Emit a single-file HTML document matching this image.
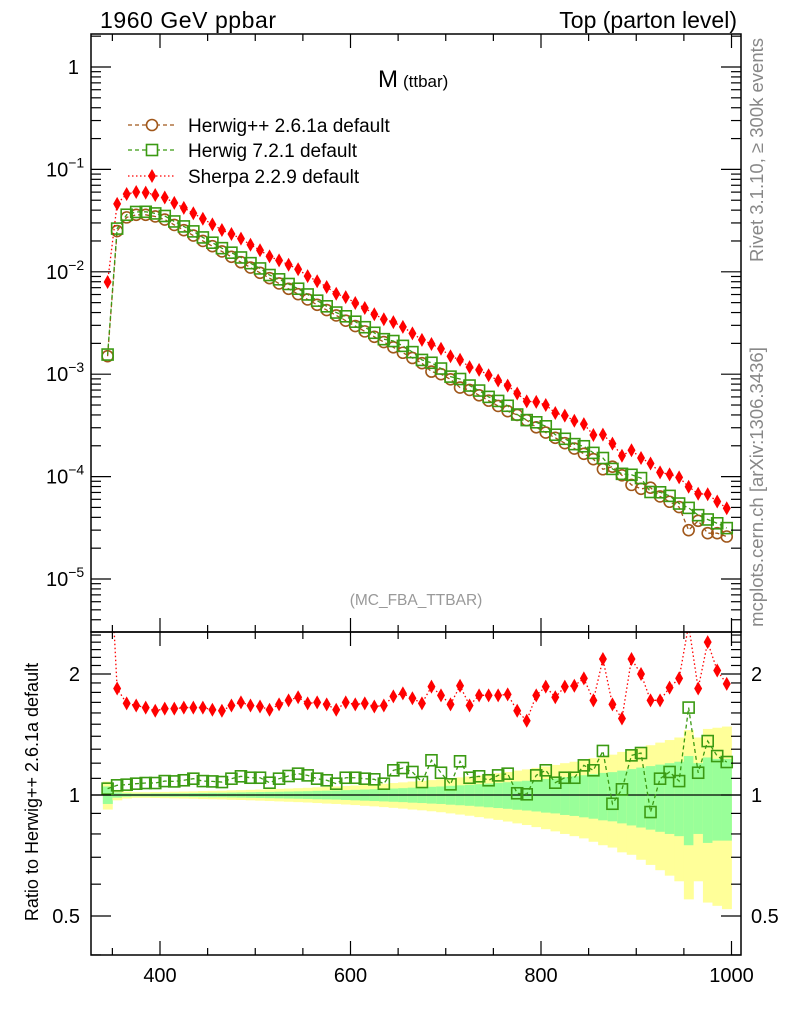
<!DOCTYPE html>
<html><head><meta charset="utf-8">
<style>
html,body{margin:0;padding:0;background:#fff;}
svg{display:block;font-family:"Liberation Sans",Arial,sans-serif;}
</style></head>
<body>
<svg id="chart" width="786" height="1024" viewBox="0 0 786 1024" xmlns="http://www.w3.org/2000/svg">
  <g id="bands"></g>
  <g id="series"></g>
  <g id="axes"></g>
  <text x="100" y="28" font-size="23" textLength="176">1960 GeV ppbar</text>
  <text x="737" y="28" font-size="23" text-anchor="end">Top (parton level)</text>
  <text x="378" y="87" font-size="24">M<tspan font-size="17" dx="5">(ttbar)</tspan></text>
  <text x="416" y="605" font-size="15.5" fill="#999" text-anchor="middle">(MC_FBA_TTBAR)</text>
  <text transform="translate(763,150) rotate(-90)" font-size="18.5" fill="#888" text-anchor="middle">Rivet 3.1.10, ≥ 300k events</text>
  <text transform="translate(763,487) rotate(-90)" font-size="18.5" fill="#888" text-anchor="middle">mcplots.cern.ch [arXiv:1306.3436]</text>
  <text transform="translate(38,792) rotate(-90)" font-size="18" text-anchor="middle">Ratio to Herwig++ 2.6.1a default</text>
  <g id="legend">
    <g>
      <line x1="128" y1="125" x2="176" y2="125" stroke="#a0571a" stroke-width="1.3" stroke-dasharray="4,3"/>
      <circle cx="152" cy="125" r="5.5" fill="#fff" stroke="#a0571a" stroke-width="1.6"/>
      <text x="188" y="132" font-size="19">Herwig++ 2.6.1a default</text>
    </g>
    <g>
      <line x1="128" y1="150" x2="176" y2="150" stroke="#3a9a12" stroke-width="1.3" stroke-dasharray="4,3"/>
      <rect x="146.5" y="144.5" width="11" height="11" fill="#fff" stroke="#3a9a12" stroke-width="1.6"/>
      <text x="188" y="157" font-size="19">Herwig 7.2.1 default</text>
    </g>
    <g>
      <line x1="128" y1="176" x2="176" y2="176" stroke="#ff0000" stroke-width="1.3" stroke-dasharray="1.5,2.5"/>
      <polygon points="152,169 156,176 152,183 148,176" fill="#ff0000"/>
      <text x="188" y="183" font-size="19">Sherpa 2.2.9 default</text>
    </g>
  </g>
</svg>
<script>
// ---- data ----
const binCenters = [345,355,365,375,385,395,405,415,425,435,445,455,465,475,485,495,505,515,525,535,545,555,565,575,585,595,605,615,625,635,645,655,665,675,685,695,705,715,725,735,745,755,765,775,785,795,805,815,825,835,845,855,865,875,885,895,905,915,925,935,945,955,965,975,985,995];
const herwigppValues = [0.0015,0.025,0.034,0.036,0.036,0.0347,0.0324,0.0287,0.0255,0.0226,0.0200,0.0178,0.0158,0.0140,0.0124,0.0110,0.00977,0.00867,0.00769,0.00682,0.00605,0.00537,0.00476,0.00423,0.00375,0.00333,0.00295,0.00262,0.00232,0.00206,0.00183,0.00162,0.00144,0.00128,0.00106,0.00100,0.000891,0.00074,0.000702,0.000622,0.000552,0.000490,0.000435,0.00040,0.000355,0.000303,0.000269,0.000239,0.000212,0.000188,0.000167,0.000148,0.000118,0.000125,0.000103,0.000083,0.000076,0.000078,0.000064,0.0000568,0.0000504,0.000030,0.000037,0.000028,0.000028,0.000026];
const herwig7Ratio = [1.037,1.057,1.061,1.067,1.071,1.071,1.083,1.081,1.088,1.098,1.083,1.081,1.077,1.098,1.113,1.104,1.104,1.073,1.098,1.115,1.130,1.119,1.098,1.088,1.067,1.104,1.104,1.098,1.094,1.067,1.152,1.167,1.141,1.077,1.220,1.136,1.063,1.213,1.104,1.113,1.088,1.119,1.130,1.010,1.004,1.119,1.152,1.073,1.104,1.104,1.185,1.152,1.287,0.951,1.033,1.255,1.272,0.907,1.098,1.141,1.083,1.65,1.136,1.362,1.25,1.208];
const sherpaRatio = [5.3,1.84,1.69,1.67,1.65,1.62,1.64,1.64,1.65,1.65,1.65,1.63,1.62,1.67,1.70,1.67,1.66,1.63,1.68,1.72,1.75,1.69,1.70,1.68,1.63,1.70,1.68,1.69,1.66,1.67,1.76,1.79,1.74,1.69,1.86,1.77,1.68,1.87,1.67,1.77,1.77,1.77,1.78,1.62,1.53,1.77,1.86,1.75,1.86,1.87,1.95,1.72,2.18,1.68,1.55,2.18,2.00,1.72,1.72,1.85,1.95,2.65,1.84,2.40,2.04,1.89];
const yellowHalfWidth = [0.08,0.03,0.02,0.016,0.016,0.017,0.018,0.019,0.02,0.021,0.023,0.024,0.025,0.027,0.028,0.03,0.032,0.034,0.036,0.038,0.04,0.042,0.045,0.048,0.05,0.053,0.056,0.06,0.063,0.067,0.071,0.075,0.08,0.084,0.089,0.094,0.10,0.106,0.112,0.119,0.126,0.133,0.141,0.15,0.158,0.168,0.178,0.188,0.2,0.21,0.22,0.235,0.25,0.26,0.28,0.29,0.31,0.33,0.35,0.37,0.39,0.45,0.39,0.46,0.47,0.48];
const greenHalfWidth = [0.05,0.015,0.01,0.008,0.008,0.009,0.009,0.01,0.01,0.011,0.012,0.013,0.013,0.014,0.015,0.016,0.017,0.018,0.019,0.02,0.021,0.022,0.024,0.025,0.026,0.028,0.03,0.032,0.034,0.036,0.038,0.04,0.043,0.045,0.048,0.05,0.054,0.057,0.06,0.064,0.068,0.072,0.076,0.081,0.085,0.09,0.096,0.10,0.108,0.113,0.12,0.127,0.135,0.14,0.15,0.16,0.17,0.18,0.19,0.2,0.21,0.25,0.2,0.24,0.23,0.23];
const binWidth = 10;
const xTickLabels = [400,600,800,1000];
const mainTickExps = [0,-1,-2,-3,-4,-5];
const ratioTickLabels = [0.5,1,2];

// ---- axes ----
const L=91, R=741, MT=34, MB=632, RT=632, RB=955;
const xs = v => 160 + (v-400)*0.9525;
const ym = v => 67 - Math.log10(v)*102.4;
const yr = r => 795 - Math.log2(r)*121;
const NS="http://www.w3.org/2000/svg";
function mk(tag, attrs, parent){const e=document.createElementNS(NS,tag);for(const k in attrs)e.setAttribute(k,attrs[k]);parent.appendChild(e);return e;}
const bands=document.getElementById('bands'), series=document.getElementById('series'), axes=document.getElementById('axes');

binCenters.forEach((c,i)=>{
  const x0=Math.max(L,xs(c-binWidth/2)), x1=xs(c+binWidth/2);
  const yh=yellowHalfWidth[i], gh=greenHalfWidth[i];
  const yb=mk('rect',{x:x0,y:yr(1+yh),width:x1-x0+0.4,height:yr(1-yh)-yr(1+yh),fill:'#ffff99'},bands);
  
  
  const gb=mk('rect',{x:x0,y:yr(1+gh),width:x1-x0+0.4,height:yr(1-gh)-yr(1+gh),fill:'#99ff99'},bands);
  
  
});
mk('line',{x1:L,x2:R,y1:yr(1),y2:yr(1),stroke:'#000','stroke-width':1.2},bands);

const defs=mk('defs',{},document.getElementById('chart'));
const cp1=mk('clipPath',{id:'cmain'},defs); mk('rect',{x:L,y:MT,width:R-L,height:MB-MT},cp1);
const cp2=mk('clipPath',{id:'cratio'},defs); mk('rect',{x:L,y:RT,width:R-L,height:RB-RT},cp2);
const gm=mk('g',{'clip-path':'url(#cmain)'},series);
const gr=mk('g',{'clip-path':'url(#cratio)'},series);

function drawSeries(g, vals, yf, color, dash, marker, name){
  const pts=binCenters.map((c,i)=>xs(c)+','+yf(vals[i])).join(' ');
  const pl=mk('polyline',{points:pts,fill:'none',stroke:color,'stroke-width':1.3,'stroke-dasharray':dash},g);
  
  
  binCenters.forEach((c,i)=>{
    const x=xs(c), y=yf(vals[i]); let m;
    if(marker==='circle') m=mk('circle',{cx:x,cy:y,r:5.5,fill:'none',stroke:color,'stroke-width':1.6},g);
    else if(marker==='square') m=mk('rect',{x:x-5.5,y:y-5.5,width:11,height:11,fill:'none',stroke:color,'stroke-width':1.6},g);
    else m=mk('polygon',{points:`${x},${y-7} ${x+4},${y} ${x},${y+7} ${x-4},${y}`,fill:color},g);
    
    
  });
}
const h7Values = herwigppValues.map((v,i)=>v*herwig7Ratio[i]);
const sherpaValues = herwigppValues.map((v,i)=>v*sherpaRatio[i]);
drawSeries(gm, herwigppValues, ym, '#a0571a','4,3','circle','herwigpp');
drawSeries(gm, h7Values, ym, '#3a9a12','4,3','square','herwig7');
drawSeries(gm, sherpaValues, ym, '#ff0000','1.5,2.5','diamond','sherpa');
drawSeries(gr, herwig7Ratio, yr, '#3a9a12','4,3','square','herwig7-ratio');
drawSeries(gr, sherpaRatio, yr, '#ff0000','1.5,2.5','diamond','sherpa-ratio');

const f1=mk('rect',{x:L,y:MT,width:R-L,height:MB-MT,fill:'none',stroke:'#000','stroke-width':1.5},axes);


const f2=mk('rect',{x:L,y:RT,width:R-L,height:RB-RT,fill:'none',stroke:'#000','stroke-width':1.5},axes);



for(let v=350; v<=1000; v+=50){
  const x=xs(v), big=(v%200===0), len=big?14:7;
  [[MT,1],[RT,1],[RB,-1]].forEach(([y0,d])=>mk('line',{x1:x,x2:x,y1:y0,y2:y0+d*len,stroke:'#000','stroke-width':1.2},axes));
  mk('line',{x1:x,x2:x,y1:MB,y2:MB-len,stroke:'#000','stroke-width':1.2},axes);
}
xTickLabels.forEach(v=>{
  const t=mk('text',{x:xs(v),y:982,'font-size':20,'text-anchor':'middle'},axes);
  t.textContent=v;
  
  
});
for(let e=-6;e<=0;e++){
  for(let k=1;k<10;k++){
    const v=k*Math.pow(10,e), y=ym(v);
    if(y<MT||y>MB) continue;
    const len=k===1?20:10;
    mk('line',{x1:L,x2:L+len,y1:y,y2:y,stroke:'#000','stroke-width':1.2},axes);
    mk('line',{x1:R,x2:R-len,y1:y,y2:y,stroke:'#000','stroke-width':1.2},axes);
  }
}
mainTickExps.forEach(e=>{
  const y=ym(Math.pow(10,e));
  const t=mk('text',{x:e===0?79:46,y:y+7,'font-size':20,'text-anchor':e===0?'end':'start'},axes);
  
  
  if(e===0){t.textContent='1';}
  else{t.textContent='10'; const s=mk('tspan',{dy:-9,'font-size':14},t); s.textContent='−'+(-e);}
});
for(let r=0.4;r<=2.55;r+=0.1){
  const rr=Math.round(r*10)/10, y=yr(rr);
  if(y<RT||y>RB) continue;
  const big=(rr===0.5||rr===1||rr===2), len=big?20:10;
  mk('line',{x1:L,x2:L+len,y1:y,y2:y,stroke:'#000','stroke-width':1.2},axes);
  mk('line',{x1:R,x2:R-len,y1:y,y2:y,stroke:'#000','stroke-width':1.2},axes);
}
ratioTickLabels.forEach(r=>{
  const y=yr(r)+7;
  const t1=mk('text',{x:80,y:y,'font-size':20,'text-anchor':'end'},axes);
  t1.textContent=r;
  
  
  const t2=mk('text',{x:751,y:y,'font-size':20,'text-anchor':'start'},axes);
  t2.textContent=r;
  
  
});
</script>
</body></html>
